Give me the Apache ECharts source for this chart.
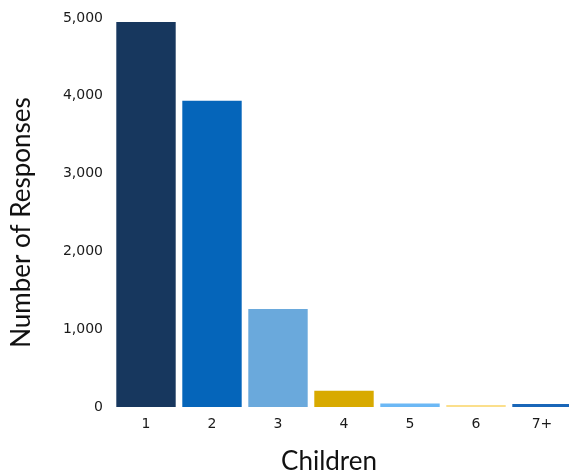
<!DOCTYPE html>
<html><head><meta charset="utf-8">
<script src="https://cdn.jsdelivr.net/npm/echarts@6/dist/echarts.min.js"></script>
<style>html,body{margin:0;padding:0;background:#fff}#c{width:569px;height:476px}</style>
</head><body><div id="c"></div>
<script>
const categories = ['1','2','3','4','5','6','7+'];
const values = [4950, 3935, 1260, 210, 46, 25, 38];
const barColors = ['#17375e','#0565ba','#6aa9dc','#d8aa00','#6cb8f5','#fbdf8c','#1966b8'];
const yTicks = [0,1000,2000,3000,4000,5000];

const chart = echarts.init(document.getElementById('c'));
chart.setOption({
  animation:false,
  grid:{left:113, width:462, top:18, height:389, containLabel:false, outerBoundsMode:'none'},
  xAxis:{type:'category', data:categories,
    name:'Children', nameLocation:'middle', nameGap:42,
    nameTextStyle:{fontFamily:'Lato', fontSize:26, color:'#111', padding:[0,30,0,0]},
    axisLine:{show:false}, axisTick:{show:false},
    axisLabel:{margin:10, fontFamily:'DejaVu Sans', fontSize:14, color:'#1a1a1a'}},
  yAxis:{type:'value', min:0, max:5000, interval:1000,
    name:'Number of Responses', nameLocation:'middle', nameGap:78,
    nameTextStyle:{fontFamily:'Lato', fontSize:26, color:'#111', padding:[0,20,0,0]},
    splitLine:{show:false}, axisLine:{show:false}, axisTick:{show:false},
    axisLabel:{margin:10, fontFamily:'DejaVu Sans', fontSize:14, color:'#1a1a1a',
      formatter:v=>yTicks.includes(v)?v.toLocaleString('en-US'):''}},
  series:[{type:'bar', barCategoryGap:'10%',
    data:values.map((v,i)=>({value:v, itemStyle:{color:barColors[i]}}))}]
});
</script></body></html>
